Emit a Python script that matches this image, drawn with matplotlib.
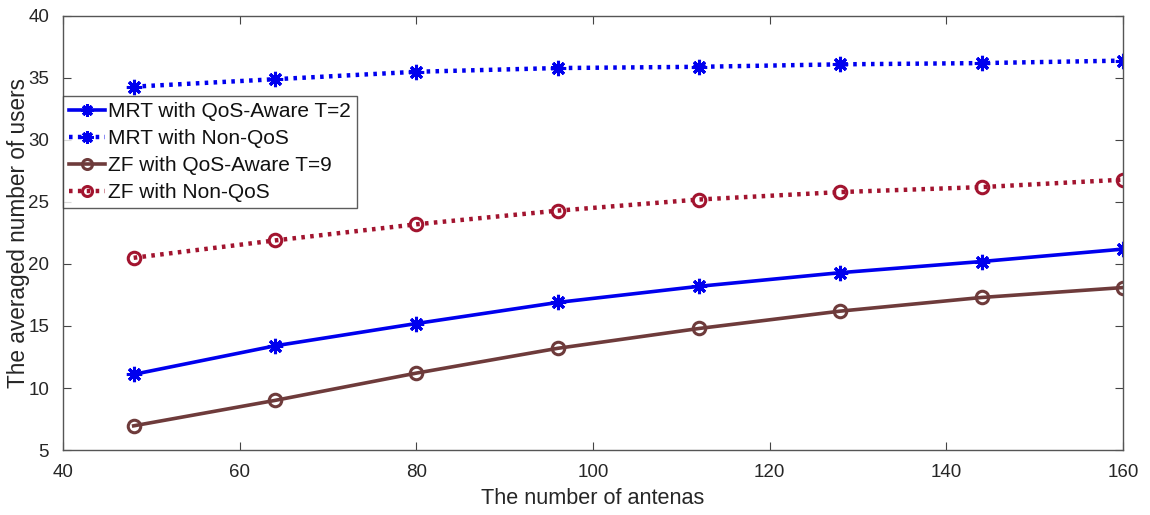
import matplotlib.pyplot as plt

plt.rcParams["font.family"] = ["Liberation Sans", "DejaVu Sans"]

# ── Data ──────────────────────────────────────────────────────────────────────
antennas = [48, 64, 80, 96, 112, 128, 144, 160]
mrt_qos = [11.1, 13.4, 15.2, 16.9, 18.2, 19.3, 20.2, 21.2]
mrt_non = [34.3, 34.9, 35.5, 35.8, 35.9, 36.1, 36.2, 36.4]
zf_qos = [6.95, 9.0, 11.2, 13.2, 14.8, 16.2, 17.3, 18.1]
zf_non = [20.5, 21.9, 23.2, 24.3, 25.2, 25.8, 26.2, 26.8]

C_BLUE = "#0000EE"
C_BROWN = "#6E3B3B"
C_RED = "#A2142F"
C_TXT = "#262626"
AST = (8, 2, 0)
DOT = (0, (0.8, 1.2))

fig = plt.figure(figsize=(11.5, 5.15), dpi=100)
ax = fig.add_axes([0.0548, 0.1262, 0.9217, 0.8428])

ax.plot(antennas, mrt_qos, color=C_BLUE, lw=2.6, marker=AST, ms=11, mew=2.2,
        label="MRT with QoS-Aware T=2")
ax.plot(antennas, mrt_non, color=C_BLUE, lw=3.2, ls=DOT, marker=AST, ms=11, mew=2.2,
        label="MRT with Non-QoS")
ax.plot(antennas, zf_qos, color=C_BROWN, lw=2.6, marker="o", ms=9, mew=2.2,
        mfc="none", label="ZF with QoS-Aware T=9")
ax.plot(antennas, zf_non, color=C_RED, lw=3.2, ls=DOT, marker="o", ms=9, mew=2.2,
        mfc="none", label="ZF with Non-QoS")

ax.set_xlim(40, 160)
ax.set_ylim(5, 40)
ax.set_xticks(range(40, 161, 20))
ax.set_yticks(range(5, 41, 5))
ax.tick_params(direction="in", top=True, right=True, labelsize=13.5, length=6,
               color="#444444", labelcolor=C_TXT, pad=10)
for s in ax.spines.values():
    s.set_color("#555555")
    s.set_linewidth(1.0)

ax.set_xlabel("The number of antenas", fontsize=15.6, color=C_TXT, labelpad=5)
ax.set_ylabel("The averaged number of users", fontsize=16.3, color=C_TXT)
ax.yaxis.set_label_coords(-0.031, 0.5)

leg = ax.legend(loc="upper left", bbox_to_anchor=(0.0, 0.816), fontsize=15,
                frameon=True, fancybox=False, borderaxespad=0, handlelength=1.7,
                handletextpad=0.15, borderpad=0.3, labelspacing=0.38,
                markerscale=0.8)
leg.get_frame().set_edgecolor("#333333")
leg.get_frame().set_linewidth(1.0)
for t in leg.get_texts():
    t.set_color("#111111")

fig.savefig("out.png", dpi=100, facecolor="white")
